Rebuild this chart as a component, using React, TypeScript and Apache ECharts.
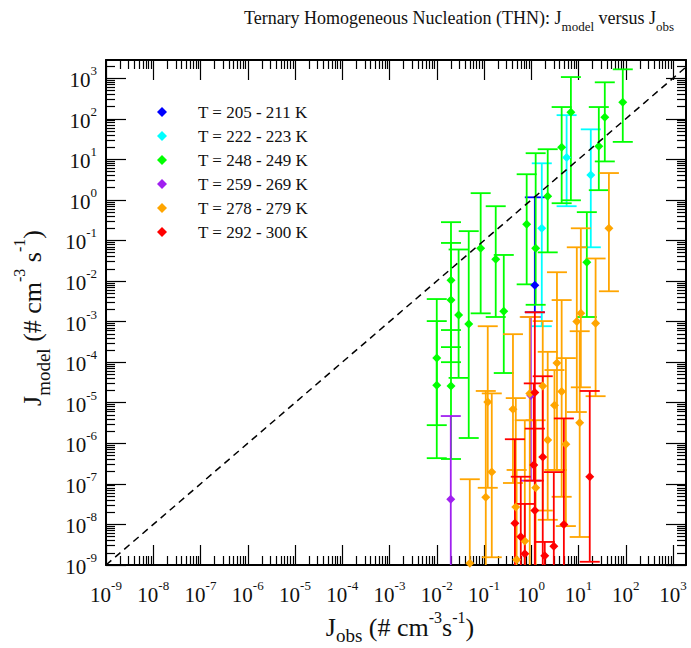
import React, { useEffect, useRef } from 'react';
import * as echarts from 'echarts';

const FONT = '"Liberation Serif", "Times New Roman", serif';

// axis ranges
const X_MIN = 0.999e-9;
const X_MAX = 1884;
const Y_MIN = 0.999e-9;
const Y_MAX = 2818;

// tick labels / major ticks (decades)
const majorTicks = [1e-9, 1e-8, 1e-7, 1e-6, 1e-5, 1e-4, 1e-3, 1e-2, 1e-1, 1, 10, 100, 1000];
const minorMultipliers = [2, 3, 4, 5, 6, 7, 8, 9];

// data: [J_obs, J_model, lower error, upper error]
const blueData = [
  [1.19, 7.9e-3, 1.7e-3, 1.16],
];
const cyanData = [
  [5.6, 11.2, 0.7, 123],
  [18.2, 4.1, 0.068, 55],
  [1.67, 0.2, 7.7e-4, 8.0],
];
const greenData = [
  [0.01, 1.26e-4, 2.8e-6, 1.03e-3],
  [0.01, 2.7e-5, 4.3e-7, 3.6e-3],
  [0.02, 1.05e-2, 2.35e-4, 0.283],
  [0.02, 3.4e-3, 1.0e-4, 0.087],
  [0.02, 2.6e-5, 4.1e-7, 6.2e-4],
  [0.029, 1.45e-3, 4.1e-5, 0.06],
  [0.0475, 8.7e-4, 1.35e-6, 0.17],
  [0.085, 0.0645, 1.6e-3, 1.47],
  [0.177, 0.0346, 1.3e-3, 0.7],
  [0.262, 1.8e-3, 5.4e-5, 0.044],
  [0.8, 0.252, 8.3e-3, 4.3],
  [1.24, 0.0645, 2.6e-3, 14.2],
  [2.23, 1.24, 0.051, 17.8],
  [4.4, 20, 0.83, 195],
  [6.9, 145, 0.98, 1070],
  [15, 0.029, 1.3e-3, 0.5],
  [26.9, 21, 1.74, 195],
  [36, 110, 8.9, 794],
  [86.5, 257, 27, 1660],
];
const purpleData = [
  [0.0198, 4.2e-8, 1e-10, 4.7e-6],
  [0.98, 1.5e-5, 1.2e-7, 1.3e-3],
];
const orangeData = [
  [44, 0.2, 5.6e-3, 4.6],
  [11.2, 1.6e-3, 2.4e-5, 0.2],
  [9.2, 1.0e-3, 5.9e-6, 0.068],
  [23, 9.1e-4, 1.45e-5, 0.036],
  [10.6, 3.2e-6, 4.9e-9, 5.8e-4],
  [3.5, 9.5e-5, 2.2e-7, 0.0165],
  [4.4, 1.9e-5, 4.8e-8, 3.4e-3],
  [3.1, 8.7e-6, 2.2e-7, 6.4e-5],
  [5.4, 9.5e-7, 9.1e-9, 1.26e-4],
  [0.12, 1.05e-5, 8.0e-8, 7.7e-4],
  [0.146, 1.95e-7, 1.55e-9, 1.7e-5],
  [0.109, 4.7e-8, 1e-10, 1.95e-5],
  [0.05, 1.1e-9, 1e-10, 1.3e-7],
  [0.41, 6.9e-6, 1.05e-7, 4.9e-4],
  [0.47, 2.7e-8, 1e-10, 1.3e-5],
  [0.73, 3.9e-9, 1e-10, 3.7e-6],
  [0.93, 1.7e-5, 1e-10, 1.3e-3],
  [1.75, 2.6e-5, 2.2e-8, 1.03e-3],
  [1.24, 8.0e-8, 1e-10, 3.7e-6],
  [0.49, 1.35e-9, 1e-10, 2.2e-7],
  [2.23, 1.2e-6, 1.3e-8, 1.8e-4],
];
const redData = [
  [1.19, 1.8e-5, 1e-10, 1.7e-3],
  [1.75, 4.6e-7, 1e-10, 4.5e-5],
  [1.13, 2.9e-7, 1.2e-7, 3.0e-5],
  [17.3, 1.5e-7, 1.2e-9, 1.95e-5],
  [0.45, 1.07e-8, 1e-10, 1.26e-6],
  [1.19, 2.2e-8, 1e-10, 2.3e-6],
  [4.9, 1.0e-8, 1e-10, 4.1e-6],
  [3.0, 2.9e-9, 1e-10, 1.95e-7],
  [1.93, 1.7e-9, 1e-10, 3.7e-9],
  [0.73, 1.9e-9, 1e-10, 3.2e-8],
  [0.6, 5e-9, 1e-10, 1.5e-7],
];

const groupNames = [
  'T = 205 - 211 K',
  'T = 222 - 223 K',
  'T = 248 - 249 K',
  'T = 259 - 269 K',
  'T = 278 - 279 K',
  'T = 292 - 300 K',
];
const groupColors = ['#0000ff', '#00ffff', '#00ff00', '#a020f0', '#ffa500', '#ff0000'];
const groupData = [blueData, cyanData, greenData, purpleData, orangeData, redData];

const diagonal = [
  [1e-9, 1e-9],
  [X_MAX, X_MAX],
];

function minorTickValues() {
  const out: number[] = [];
  for (let i = 0; i < majorTicks.length; i++) {
    for (const m of minorMultipliers) out.push(m * majorTicks[i]);
  }
  return out;
}

export default function App() {
  const ref = useRef<HTMLDivElement>(null);
  useEffect(() => {
    if (!ref.current) return;
    const chart = echarts.init(ref.current, null, { renderer: 'svg' });
    const minors = minorTickValues();
    const labelFmt = (v: number) => '{b|10}{s|' + Math.round(Math.log10(v)) + '}';
    const labelRich = {
      b: { fontSize: 21, lineHeight: 32, fontFamily: FONT, color: '#111' },
      s: { fontSize: 13, lineHeight: 13, verticalAlign: 'top', fontFamily: FONT, color: '#111' },
    };
    const lineStyle = { color: '#000', width: 2 };
    const mkX = (pos: string, major: boolean, labels: boolean) => ({
      type: 'log',
      logBase: 10,
      min: X_MIN,
      max: X_MAX,
      position: pos,
      gridIndex: 0,
      axisLine: { show: major, onZero: false, lineStyle },
      axisTick: {
        show: true,
        inside: true,
        length: major ? 20 : 9,
        customValues: major ? majorTicks : minors,
        lineStyle: { color: '#000', width: 1.2 },
      },
      axisLabel: labels
        ? { show: true, customValues: majorTicks, formatter: labelFmt, margin: 14, rich: labelRich }
        : { show: false },
      splitLine: { show: false },
      minorTick: { show: false },
    });
    const mkY = (pos: string, major: boolean, labels: boolean) => ({
      type: 'log',
      logBase: 10,
      min: Y_MIN,
      max: Y_MAX,
      position: pos,
      gridIndex: 0,
      axisLine: { show: major, onZero: false, lineStyle },
      axisTick: {
        show: true,
        inside: true,
        length: major ? 20 : 9,
        customValues: major ? majorTicks : minors,
        lineStyle: { color: '#000', width: 1.2 },
      },
      axisLabel: labels
        ? { show: true, customValues: majorTicks, formatter: labelFmt, margin: 9, padding: [4, 0, 0, 0], rich: labelRich }
        : { show: false },
      splitLine: { show: false },
      minorTick: { show: false },
    });

    const scatterSeries = groupNames.map((name, i) => ({
      type: 'scatter',
      name,
      xAxisIndex: 0,
      yAxisIndex: 0,
      symbol: 'diamond',
      symbolSize: 9,
      itemStyle: { color: groupColors[i], opacity: 1 },
      z: 3,
      clip: true,
      data: groupData[i].map((d) => [d[0], d[1]]),
    }));
    const errSeries = groupNames.map((name, i) => ({
      type: 'custom',
      name,
      xAxisIndex: 0,
      yAxisIndex: 0,
      z: 2,
      clip: true,
      itemStyle: { color: groupColors[i] },
      encode: { x: 0, y: 1 },
      data: groupData[i],
      renderItem: (params: any, api: any) => {
        const x = api.value(0);
        const lo = api.value(2);
        const hi = api.value(3);
        const pHi = api.coord([x, hi]);
        const pLo = api.coord([x, lo]);
        const hw = 10;
        const style = { stroke: groupColors[i], lineWidth: 1.8, fill: 'none' };
        return {
          type: 'group',
          children: [
            { type: 'line', shape: { x1: pHi[0], y1: pHi[1], x2: pLo[0], y2: pLo[1] }, style },
            { type: 'line', shape: { x1: pHi[0] - hw, y1: pHi[1], x2: pHi[0] + hw, y2: pHi[1] }, style },
            { type: 'line', shape: { x1: pLo[0] - hw, y1: pLo[1], x2: pLo[0] + hw, y2: pLo[1] }, style },
          ],
        };
      },
    }));

    const option: any = {
      animation: false,
      backgroundColor: '#fff',
      grid: { left: 106, right: 5, top: 60, bottom: 83, containLabel: false },
      xAxis: [mkX('bottom', true, true), mkX('bottom', false, false), mkX('top', true, false), mkX('top', false, false)],
      yAxis: [mkY('left', true, true), mkY('left', false, false), mkY('right', true, false), mkY('right', false, false)],
      legend: {
        data: groupNames.map((n, i) => ({ name: n, icon: 'diamond', itemStyle: { color: groupColors[i] } })),
        orient: 'vertical',
        left: 152,
        top: 95,
        itemWidth: 10,
        itemHeight: 10,
        itemGap: 0,
        symbolKeepAspect: true,
        selectedMode: false,
        textStyle: { fontFamily: FONT, fontSize: 17, color: '#111', lineHeight: 24, padding: [0, 0, 0, 26] },
      },
      graphic: [
        {
          type: 'text',
          x: 459,
          y: 18,
          style: {
            text: 'Ternary Homogeneous Nucleation (THN): J{sub|model} versus J{sub|obs}',
            fontFamily: FONT,
            fontSize: 18,
            lineHeight: 30,
            fill: '#111',
            align: 'center',
            verticalAlign: 'middle',
            rich: { sub: { fontSize: 13, lineHeight: 13, verticalAlign: 'bottom', fontFamily: FONT, fill: '#111' } },
          },
        },
        {
          type: 'text',
          x: 400,
          y: 627,
          style: {
            text: 'J{sub|obs} (# cm{sup|-3}s{sup|-1})',
            fontFamily: FONT,
            fontSize: 26,
            lineHeight: 36,
            fill: '#111',
            align: 'center',
            verticalAlign: 'middle',
            rich: {
              sub: { fontSize: 19, lineHeight: 19, verticalAlign: 'bottom', fontFamily: FONT, fill: '#111' },
              sup: { fontSize: 16, lineHeight: 16, verticalAlign: 'top', fontFamily: FONT, fill: '#111' },
            },
          },
        },
        {
          type: 'text',
          x: 32,
          y: 318,
          rotation: Math.PI / 2,
          style: {
            text: 'J{sub|model} (# cm{sup|-3} s{sup|-1})',
            fontFamily: FONT,
            fontSize: 26,
            lineHeight: 42,
            fill: '#111',
            align: 'center',
            verticalAlign: 'middle',
            rich: {
              sub: { fontSize: 19, lineHeight: 19, verticalAlign: 'bottom', fontFamily: FONT, fill: '#111' },
              sup: { fontSize: 16, lineHeight: 16, verticalAlign: 'top', fontFamily: FONT, fill: '#111' },
            },
          },
        },
      ],
      series: [
        ...scatterSeries,
        ...errSeries,
        {
          type: 'line',
          name: 'one-to-one',
          xAxisIndex: 0,
          yAxisIndex: 0,
          data: diagonal,
          showSymbol: false,
          symbol: 'none',
          clip: true,
          z: 4,
          silent: true,
          lineStyle: { color: '#000', width: 1.5, type: [7, 5] },
        },
      ],
    };
    chart.setOption(option);
    return () => chart.dispose();
  }, []);
  return <div ref={ref} style={{ position: 'absolute', left: 0, top: 0, width: 691, height: 648 }} />;
}
